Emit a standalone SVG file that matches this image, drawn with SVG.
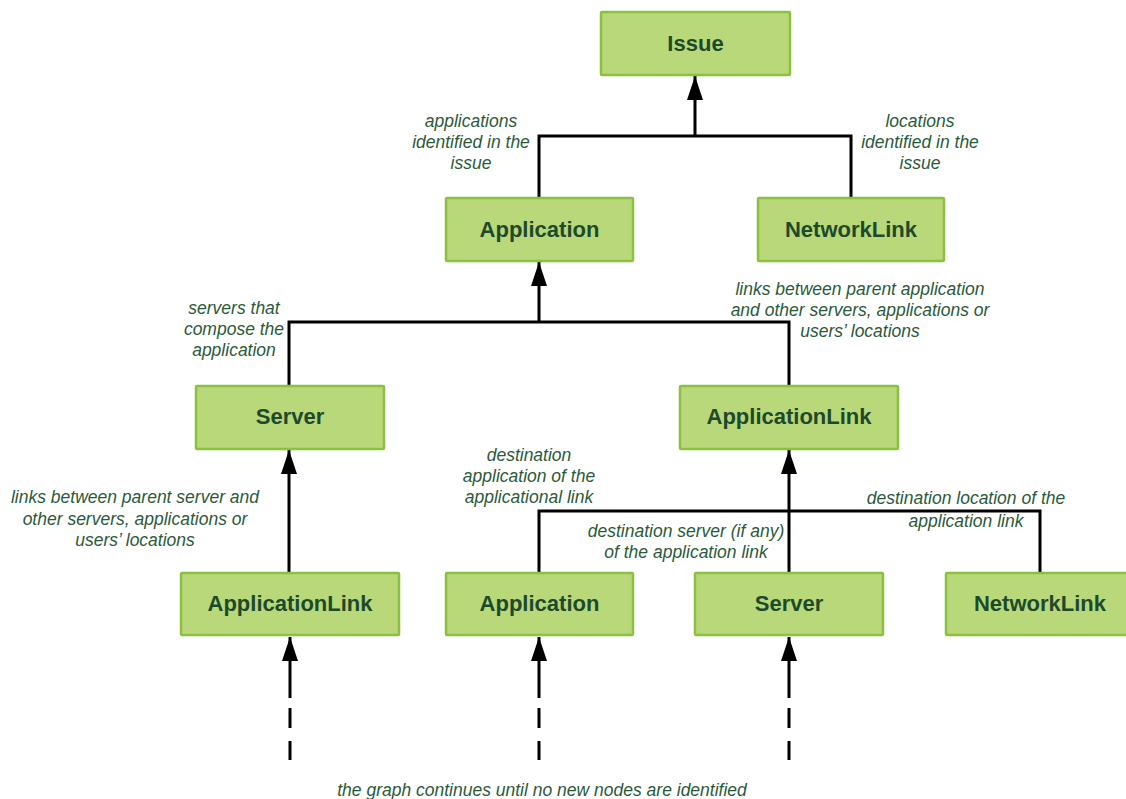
<svg xmlns="http://www.w3.org/2000/svg" width="1126" height="799" viewBox="0 0 1126 799">
<style>
.box{fill:#b9d879;stroke:#8cc040;stroke-width:2.5}
.nt{font-family:"Liberation Sans",Arial,sans-serif;font-weight:bold;font-size:22px;fill:#1d4a2b;text-anchor:middle}
.lb{font-family:"Liberation Sans",Arial,sans-serif;font-style:italic;font-size:17.5px;fill:#2b5a3a;text-anchor:middle}
.ln{fill:none;stroke:#000;stroke-width:3}
.ar{fill:none;stroke:#000;stroke-width:3;marker-end:url(#ah)}
</style>
<defs>
<marker id="ah" markerUnits="userSpaceOnUse" markerWidth="26" markerHeight="18" refX="24" refY="8" orient="auto" viewBox="0 0 26 18">
<path d="M0,0 L24,8 L0,16 z" fill="#000"/>
</marker>
</defs>
<rect width="1126" height="799" fill="#fff"/>
<g id="connectors">
<path class="ar" d="M695,136 V76"/>
<path class="ln" d="M539,198 V136 H851 V198"/>
<path class="ar" d="M539,322 V262"/>
<path class="ln" d="M289,386 V322 H789 V386"/>
<path class="ar" d="M289,573 V450"/>
<path class="ar" d="M789,573 V450"/>
<path class="ln" d="M539,573 V511 H1040 V573"/>
<path class="ar" d="M290,698 V637"/>
<path class="ar" d="M539,698 V637"/>
<path class="ar" d="M789,698 V637"/>
<path class="ln" d="M290,708 V728 M290,741 V760 M539,708 V728 M539,741 V760 M789,708 V728 M789,741 V760"/>
</g>
<g id="issue"><rect class="box" x="601" y="12" width="189" height="63" rx="1"/><text class="nt" x="695.5" y="51">Issue</text></g>
<g id="application1"><rect class="box" x="446" y="198" width="187" height="63" rx="1"/><text class="nt" x="539.5" y="237">Application</text></g>
<g id="networklink1"><rect class="box" x="758" y="198" width="186" height="63" rx="1"/><text class="nt" x="851" y="237">NetworkLink</text></g>
<g id="server1"><rect class="box" x="196" y="386" width="188" height="63" rx="1"/><text class="nt" x="290" y="424">Server</text></g>
<g id="applicationlink1"><rect class="box" x="680" y="386" width="218" height="63" rx="1"/><text class="nt" x="789" y="424">ApplicationLink</text></g>
<g id="applicationlink2"><rect class="box" x="181" y="573" width="218" height="62" rx="1"/><text class="nt" x="290" y="611">ApplicationLink</text></g>
<g id="application2"><rect class="box" x="446" y="573" width="187" height="62" rx="1"/><text class="nt" x="539.5" y="611">Application</text></g>
<g id="server2"><rect class="box" x="695" y="573" width="188" height="62" rx="1"/><text class="nt" x="789" y="611">Server</text></g>
<g id="networklink2"><rect class="box" x="946" y="573" width="188" height="62" rx="1"/><text class="nt" x="1040" y="611">NetworkLink</text></g>
<g id="labels">
<text class="lb" x="471" y="127">applications</text>
<text class="lb" x="471" y="148">identified in the</text>
<text class="lb" x="471" y="169">issue</text>
<text class="lb" x="920" y="127">locations</text>
<text class="lb" x="920" y="148">identified in the</text>
<text class="lb" x="920" y="169">issue</text>
<text class="lb" x="234" y="314">servers that</text>
<text class="lb" x="234" y="335">compose the</text>
<text class="lb" x="234" y="356">application</text>
<text class="lb" x="860" y="295">links between parent application</text>
<text class="lb" x="860" y="316">and other servers, applications or</text>
<text class="lb" x="860" y="337">users’ locations</text>
<text class="lb" x="135" y="503">links between parent server and</text>
<text class="lb" x="135" y="525">other servers, applications or</text>
<text class="lb" x="135" y="546">users’ locations</text>
<text class="lb" x="529" y="461">destination</text>
<text class="lb" x="529" y="482">application of the</text>
<text class="lb" x="529" y="503">applicational link</text>
<text class="lb" x="686" y="537">destination server (if any)</text>
<text class="lb" x="686" y="558">of the application link</text>
<text class="lb" x="966" y="504">destination location of the</text>
<text class="lb" x="966" y="527">application link</text>
<text class="lb" x="542" y="796">the graph continues until no new nodes are identified</text>
</g>
</svg>
